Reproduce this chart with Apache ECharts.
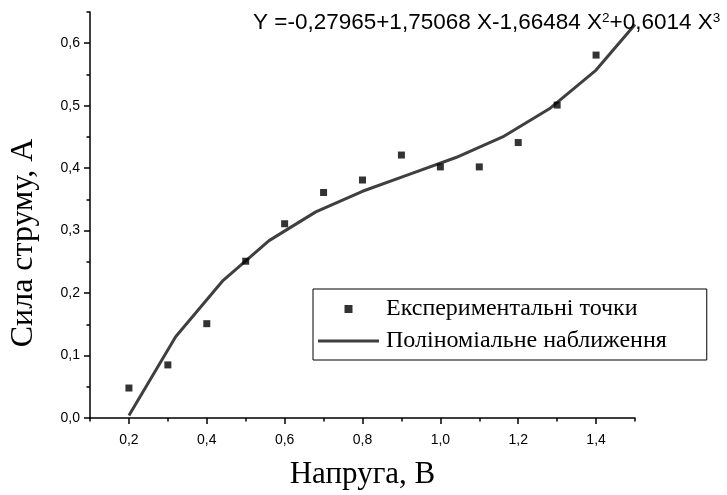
<!DOCTYPE html>
<html>
<head>
<meta charset="utf-8">
<script src="https://cdn.jsdelivr.net/npm/echarts@6/dist/echarts.min.js"></script>
<style>html,body{margin:0;padding:0;background:#fff}#c{width:727px;height:495px}</style>
</head>
<body>
<div id="c"></div>
<script>
// Experimental points
const voltage = [0.2, 0.3, 0.4, 0.5, 0.6, 0.7, 0.8, 0.9, 1.0, 1.1, 1.2, 1.3, 1.4];
const current = [0.048, 0.085, 0.151, 0.251, 0.311, 0.361, 0.381, 0.421, 0.402, 0.402, 0.441, 0.501, 0.581];
// Polynomial fit curve at its vertices
const fitX = [0.2, 0.32, 0.44, 0.56, 0.68, 0.80, 0.92, 1.04, 1.16, 1.28, 1.40, 1.50];
const fitY = [0.004, 0.130, 0.219, 0.284, 0.330, 0.363, 0.390, 0.417, 0.450, 0.495, 0.557, 0.630];
// Ticks
const xMajor = [0.2, 0.4, 0.6, 0.8, 1.0, 1.2, 1.4];
const xMinor = [0.1, 0.3, 0.5, 0.7, 0.9, 1.1, 1.3, 1.5];
const yMajor = [0.0, 0.1, 0.2, 0.3, 0.4, 0.5, 0.6];
const yMinor = [0.05, 0.15, 0.25, 0.35, 0.45, 0.55, 0.65];
// Texts
const seriesNames = ['Експериментальні точки', 'Поліноміальне наближення'];
const xTitle = 'Напруга, В';
const yTitle = 'Сила струму, А';
const eqParts = ['Y =-0,27965+1,75068 X-1,66484 X', '2', '+0,6014 X', '3'];

const fmt = v => v.toFixed(1).replace('.', ',');
const axisLineStyle = { color: '#000', width: 1.5 };
const tickFont = { fontFamily: 'Liberation Sans, Arial', fontSize: 14, color: '#000' };
const serif = 'Liberation Serif, Times New Roman';

const chart = echarts.init(document.getElementById('c'), null, { renderer: 'canvas' });
chart.setOption({
  animation: false,
  backgroundColor: '#fff',
  title: {
    text: '{n|' + eqParts[0] + '}{s|' + eqParts[1] + '}{n|' + eqParts[2] + '}{s|' + eqParts[3] + '}',
    left: 253, top: 11, padding: 0,
    textStyle: {
      fontWeight: 'normal',
      rich: {
        n: { fontFamily: 'Liberation Sans, Arial', fontSize: 22.5, fontWeight: 'normal', color: '#000' },
        s: { fontFamily: 'Liberation Sans, Arial', fontSize: 13.5, fontWeight: 'normal', color: '#000', verticalAlign: 'top', lineHeight: 14 }
      }
    }
  },
  grid: { left: 90, right: 92, top: 12, bottom: 76 },
  legend: {
    orient: 'vertical', left: 313, top: 289,
    padding: [8, 40, 7, 5], itemGap: 8,
    itemWidth: 61, itemHeight: 8,
    borderColor: '#000', borderWidth: 1, borderRadius: 0,
    textStyle: { fontFamily: serif, fontSize: 24, color: '#000', padding: [0, 0, 0, 2] },
    data: [
      { name: seriesNames[0], icon: 'path://M0,0H10V10H0Z' },
      { name: seriesNames[1], icon: 'path://M0,0H61V3H0Z', itemStyle: { color: '#3f3f3f' } }
    ]
  },
  xAxis: [
    {
      type: 'value', min: 0.1, max: 1.5,
      name: xTitle, nameLocation: 'middle', nameGap: 41,
      nameTextStyle: { fontFamily: serif, fontSize: 31, color: '#000' },
      axisLine: { lineStyle: axisLineStyle },
      axisTick: { show: true, inside: false, length: 6, customValues: xMajor, lineStyle: axisLineStyle },
      axisLabel: Object.assign({ customValues: xMajor, margin: 15, formatter: fmt }, tickFont),
      splitLine: { show: false }
    },
    {
      type: 'value', min: 0.1, max: 1.5, position: 'bottom',
      axisLine: { show: false },
      axisTick: { show: true, inside: false, length: 3.5, customValues: xMinor, lineStyle: axisLineStyle },
      axisLabel: { show: false },
      splitLine: { show: false }
    }
  ],
  yAxis: [
    {
      type: 'value', min: 0, max: 0.65,
      name: yTitle, nameLocation: 'middle', nameGap: 50, nameRotate: 90,
      nameTextStyle: { fontFamily: serif, fontSize: 32, color: '#000', padding: [0, 56, 0, 0] },
      axisLine: { show: true, lineStyle: axisLineStyle },
      axisTick: { show: true, inside: false, length: 6, customValues: yMajor, lineStyle: axisLineStyle },
      axisLabel: Object.assign({ customValues: yMajor, margin: 10, formatter: fmt }, tickFont),
      splitLine: { show: false }
    },
    {
      type: 'value', min: 0, max: 0.65, position: 'left',
      axisLine: { show: false },
      axisTick: { show: true, inside: false, length: 3.5, customValues: yMinor, lineStyle: axisLineStyle },
      axisLabel: { show: false },
      splitLine: { show: false }
    }
  ],
  series: [
    {
      name: seriesNames[0], type: 'scatter',
      symbol: 'rect', symbolSize: 7,
      itemStyle: { color: '#000' },
      data: voltage.map((v, i) => [v, current[i]]),
      z: 3
    },
    {
      name: seriesNames[1], type: 'line',
      showSymbol: false, symbol: 'none',
      lineStyle: { color: '#3f3f3f', width: 3 },
      itemStyle: { color: '#3f3f3f' },
      data: fitX.map((v, i) => [v, fitY[i]]),
      z: 2
    }
  ]
});
</script>
</body>
</html>
